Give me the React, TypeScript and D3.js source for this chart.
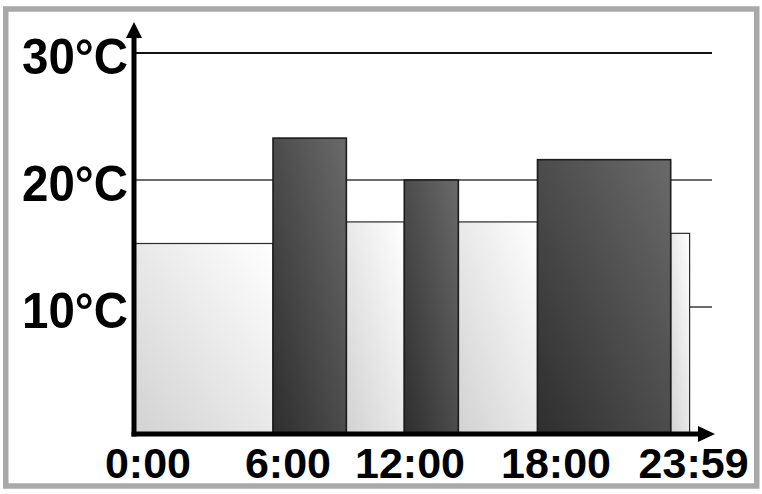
import React, { useRef, useEffect } from "react";
import * as d3 from "d3";

// Schedule segments (start time, end time, setpoint °C, level)
const segmentStarts = ["0:00", "6:00", "9:10", "11:40", "14:00", "17:25", "23:10"];
const segmentEnds = ["6:00", "9:10", "11:40", "14:00", "17:25", "23:10", "23:59"];
const segmentTemps = [15, 23.3, 16.7, 20, 16.7, 21.6, 15.8];
const segmentLevels = ["low", "high", "low", "high", "low", "high", "low"];

const yTicks = [10, 20, 30];
const xTickLabels = ["0:00", "6:00", "12:00", "18:00", "23:59"];

const toMinutes = (s: string) => {
  const [h, m] = s.split(":").map(Number);
  return h * 60 + m;
};

const W = 762;
const H = 494;
const FONT = "'Liberation Sans', Arial, Helvetica, sans-serif";

export default function App() {
  const svgRef = useRef<SVGSVGElement>(null);

  useEffect(() => {
    if (!svgRef.current) return;
    const svg = d3.select(svgRef.current);
    svg.selectAll("*").remove();

    const x = d3.scaleLinear().domain([0, 1440]).range([134, 690]);
    const y = d3.scaleLinear().domain([0, 30]).range([434, 53]);

    // gradients
    const defs = svg.append("defs");
    const grad = (id: string, from: string, to: string) => {
      const g = defs.append("linearGradient")
        .attr("id", id)
        .attr("x1", 0).attr("y1", 1)
        .attr("x2", 1).attr("y2", 0);
      g.append("stop").attr("offset", "0%").attr("stop-color", from);
      g.append("stop").attr("offset", "100%").attr("stop-color", to);
    };
    grad("lowGrad", "#d2d2d2", "#ffffff");
    grad("highGrad", "#2e2e2e", "#6a6a6a");

    // frame
    svg.append("rect")
      .attr("x", 5.75).attr("y", 9)
      .attr("width", 751).attr("height", 477)
      .attr("fill", "#ffffff")
      .attr("stroke", "#a9a9a9")
      .attr("stroke-width", 5.5);

    // gridlines
    const axisRight = 712;
    svg.append("g")
      .selectAll("line")
      .data(yTicks)
      .join("line")
      .attr("x1", x(0)).attr("x2", axisRight)
      .attr("y1", d => y(d)).attr("y2", d => y(d))
      .attr("stroke", d => (d === 30 ? "#111" : "#3a3a3a"))
      .attr("stroke-width", d => (d === 30 ? 2 : 1.5));

    // bars
    const segs = segmentStarts.map((s, i) => ({
      start: toMinutes(s),
      end: toMinutes(segmentEnds[i]),
      temp: segmentTemps[i],
      level: segmentLevels[i],
    }));

    const drawBars = (level: string) => {
      svg.append("g")
        .selectAll("rect")
        .data(segs.filter(d => d.level === level))
        .join("rect")
        .attr("x", d => x(d.start))
        .attr("y", d => y(d.temp))
        .attr("width", d => x(d.end) - x(d.start))
        .attr("height", d => y(0) - y(d.temp))
        .attr("fill", level === "low" ? "url(#lowGrad)" : "url(#highGrad)")
        .attr("stroke", level === "low" ? "#2a2a2a" : "#1c1c1c")
        .attr("stroke-width", level === "low" ? 1.2 : 1.6);
    };
    drawBars("low");
    drawBars("high");

    // axes with arrows
    const ax = x(0);
    const ay = y(0);
    svg.append("line")
      .attr("x1", ax).attr("x2", ax)
      .attr("y1", ay + 2.5).attr("y2", 36)
      .attr("stroke", "#000").attr("stroke-width", 5);
    svg.append("path")
      .attr("d", `M${ax - 8},38 L${ax},22 L${ax + 8},38 Z`)
      .attr("fill", "#000");
    svg.append("line")
      .attr("x1", ax - 2.5).attr("x2", 700)
      .attr("y1", ay).attr("y2", ay)
      .attr("stroke", "#000").attr("stroke-width", 5);
    svg.append("path")
      .attr("d", `M698,${ay - 8} L715,${ay} L698,${ay + 8} Z`)
      .attr("fill", "#000");

    // y labels
    svg.append("g")
      .selectAll("text")
      .data(yTicks)
      .join("text")
      .attr("x", 22)
      .attr("y", d => y(d) + 21)
      .attr("textLength", 106)
      .attr("lengthAdjust", "spacingAndGlyphs")
      .style("font-family", FONT)
      .style("font-weight", "bold")
      .style("font-size", "50px")
      .style("fill", "#000")
      .text(d => `${d}°C`);

    // x labels (small hand nudges, as in the original layout)
    const labelDx = [14, 15, -2, 5, 4];
    svg.append("g")
      .selectAll("text")
      .data(xTickLabels)
      .join("text")
      .attr("x", (d, i) => x(toMinutes(d)) + labelDx[i])
      .attr("y", 478)
      .attr("text-anchor", "middle")
      .style("font-family", FONT)
      .style("font-weight", "bold")
      .style("font-size", "43px")
      .style("fill", "#000")
      .text(d => d);
  }, []);

  return (
    <svg
      ref={svgRef}
      width={W}
      height={H}
      style={{ position: "absolute", left: 0, top: 0, background: "#fff" }}
    />
  );
}
